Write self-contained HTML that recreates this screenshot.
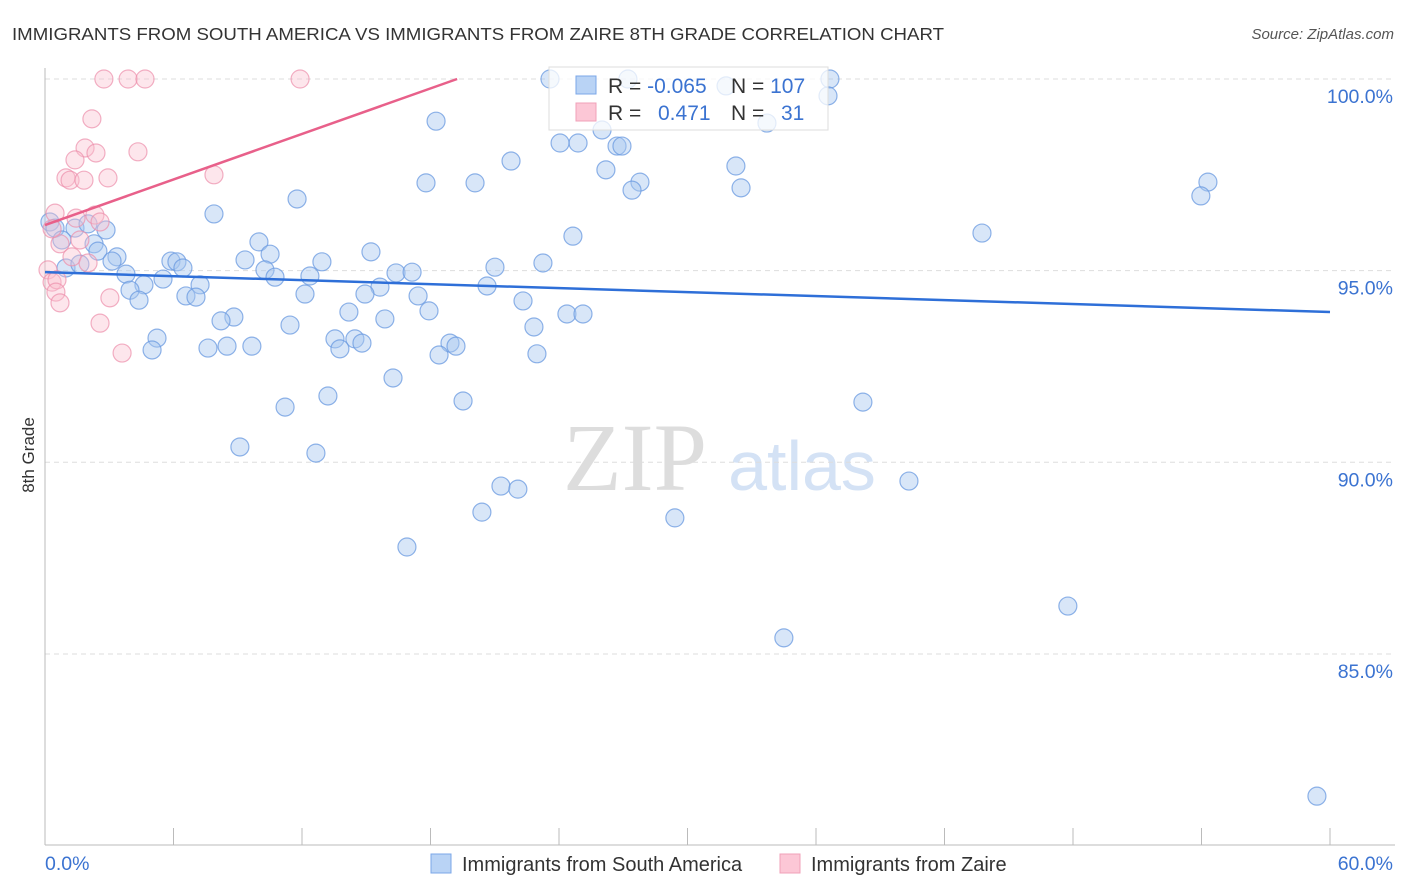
<!DOCTYPE html>
<html><head><meta charset="utf-8"><style>
body{margin:0;background:#fff;font-family:"Liberation Sans",sans-serif;}
svg{display:block}
</style></head><body>
<svg id="chart" width="1406" height="892" xmlns="http://www.w3.org/2000/svg">
<text x="12" y="40" font-size="17.5" fill="#333" textLength="932" lengthAdjust="spacingAndGlyphs">IMMIGRANTS FROM SOUTH AMERICA VS IMMIGRANTS FROM ZAIRE 8TH GRADE CORRELATION CHART</text>
<text x="1394" y="39" font-size="15" fill="#555" font-style="italic" text-anchor="end">Source: ZipAtlas.com</text>
<g><text x="635" y="490" font-family="Liberation Serif,serif" font-size="96" fill="#ddd" text-anchor="middle">ZIP</text><text x="802" y="490" font-size="70" fill="#d4e2f5" text-anchor="middle">atlas</text></g>
<g id="grid"></g><g id="axes"></g><g id="pts"></g><g id="lines"></g>
<text x="34" y="455" font-size="17" fill="#333" text-anchor="middle" transform="rotate(-90 34 455)">8th Grade</text>
<g>
<rect x="549" y="67" width="279" height="63" fill="#fff" fill-opacity="0.75" stroke="#ddd"/>
<rect x="576" y="76" width="20" height="18" fill="#b9d3f5" stroke="#7ba7e8"/>
<rect x="576" y="103" width="20" height="18" fill="#fcc7d6" stroke="#f0a0b8"/>
<text x="608" y="93" font-size="21" fill="#333">R = <tspan fill="#3b73d1">-0.065</tspan></text>
<text x="731" y="93" font-size="21" fill="#333">N = <tspan fill="#3b73d1">107</tspan></text>
<text x="608" y="120" font-size="21" fill="#333">R = </text><text x="658" y="120" font-size="21" fill="#3b73d1">0.471</text>
<text x="731" y="120" font-size="21" fill="#333">N = </text><text x="781" y="120" font-size="21" fill="#3b73d1">31</text>
</g>
<g>
<rect x="431" y="854" width="20" height="19" fill="#b9d3f5" stroke="#7ba7e8"/>
<text x="462" y="871" font-size="20" fill="#333">Immigrants from South America</text>
<rect x="780" y="854" width="20" height="19" fill="#fcc7d6" stroke="#f0a0b8"/>
<text x="811" y="871" font-size="20" fill="#333">Immigrants from Zaire</text>
</g>
</svg>
<script>
const xTicks=[0,60];
const yTicks=[100,95,90,85];
const blueX=[23.58,27.22,31.80,36.65,36.56,18.26,26.01,24.05,24.89,26.71,26.94,21.76,32.26,26.19,33.71,17.79,20.08,27.78,27.41,32.50,54.30,53.97,11.77,7.89,43.75,24.65,0.23,0.47,1.40,2.01,2.85,0.79,2.29,9.99,2.47,3.36,15.22,10.51,9.34,12.93,5.88,6.16,6.44,0.98,1.63,3.13,21.01,23.25,10.27,3.78,10.74,12.37,16.39,17.14,5.51,4.62,7.24,3.97,20.64,15.64,14.94,6.58,7.05,12.14,17.42,4.39,22.32,14.19,17.93,24.37,25.12,8.82,8.22,15.87,11.44,22.83,5.23,13.54,14.47,14.80,18.91,19.19,5.00,7.61,8.50,9.66,13.77,18.40,22.97,16.25,13.21,11.21,19.52,38.19,9.10,12.65,40.34,21.29,22.08,20.40,29.41,16.90,47.76,34.50,59.39];
const blueY=[100,100,99.82,100,99.56,98.90,98.67,98.33,98.33,98.25,98.25,97.86,97.73,97.63,98.85,97.29,97.29,97.31,97.10,97.16,97.31,96.95,96.87,96.48,95.98,95.90,96.27,96.11,96.11,96.22,96.06,95.80,95.70,95.75,95.51,95.36,95.49,95.43,95.28,95.23,95.25,95.23,95.07,95.07,95.17,95.25,95.09,95.20,95.02,94.91,94.83,94.86,94.94,94.96,94.78,94.63,94.63,94.49,94.60,94.57,94.39,94.34,94.31,94.39,94.34,94.23,94.21,93.92,93.95,93.87,93.87,93.79,93.69,93.74,93.58,93.53,93.24,93.22,93.22,93.11,93.11,93.03,92.93,92.98,93.03,93.03,92.96,92.80,92.83,92.20,91.73,91.44,91.60,91.57,90.40,90.24,89.51,89.38,89.30,88.70,88.55,87.79,86.25,85.42,81.29];
const pinkX=[2.75,3.88,4.67,11.91,2.19,1.87,2.38,4.34,1.40,0.98,1.17,1.82,2.94,7.89,0.47,2.33,1.45,2.57,0.70,1.26,2.01,0.14,0.33,0.56,0.51,3.03,0.70,2.57,3.60,0.33,1.63];
const pinkY=[100,100,100,100,98.96,98.20,98.07,98.10,97.89,97.42,97.36,97.36,97.42,97.50,96.50,96.45,96.37,96.27,95.70,95.36,95.20,95.02,94.70,94.76,94.44,94.29,94.16,93.63,92.85,96.09,95.80];
const blueTrend=[94.96,93.92];
const pinkTrend=[96.19,0.198];
const NS='http://www.w3.org/2000/svg';
const X=v=>45+v/60*1285, Y=v=>79+(100-v)*38.33;
function mk(p,t,a){const e=document.createElementNS(NS,t);for(const k in a)e.setAttribute(k,a[k]);document.getElementById(p).appendChild(e);return e;}
yTicks.forEach(t=>{
 const g=mk('grid','line',{x1:45,x2:1395,y1:Y(t),y2:Y(t),stroke:'#ddd','stroke-dasharray':'5,4'});
 
 
 const l=mk('grid','text',{x:1393,y:Y(t)+24,'font-size':19.5,fill:'#3b73d1','text-anchor':'end'});l.textContent=t.toFixed(1)+'%';
 
 
});
const ax=mk('axes','line',{x1:45,x2:45,y1:68,y2:845,stroke:'#bbb'});


const bx=mk('axes','line',{x1:45,x2:1395,y1:845,y2:845,stroke:'#bbb'});


for(let i=0;i<=10;i++){const v=i*6;const t=mk('axes','line',{x1:X(v),x2:X(v),y1:828,y2:845,stroke:'#bbb'});
 
 }
xTicks.forEach((v,i)=>{const l=mk('axes','text',{x:i?1393:45,y:870,'font-size':19.5,fill:'#3b73d1','text-anchor':i?'end':'start'});l.textContent=v.toFixed(1)+'%';
 
 });
blueX.forEach((v,i)=>{const c=mk('pts','circle',{cx:X(v),cy:Y(blueY[i]),r:9,fill:'#a9c8f0','fill-opacity':0.45,stroke:'#6a9ae0','stroke-opacity':0.75,'stroke-width':1.2});
 
 });
pinkX.forEach((v,i)=>{const c=mk('pts','circle',{cx:X(v),cy:Y(pinkY[i]),r:9,fill:'#f9c0d0','fill-opacity':0.4,stroke:'#ec8fab','stroke-opacity':0.7,'stroke-width':1.2});
 
 });
const bl=mk('lines','line',{x1:X(0),y1:Y(blueTrend[0]),x2:X(60),y2:Y(blueTrend[1]),stroke:'#2e6fd8','stroke-width':2.5});


const xe=(100-pinkTrend[0])/pinkTrend[1];
const pl=mk('lines','line',{x1:X(0),y1:Y(pinkTrend[0]),x2:X(xe),y2:Y(100),stroke:'#e8608a','stroke-width':2.5});


</script>
</body></html>
